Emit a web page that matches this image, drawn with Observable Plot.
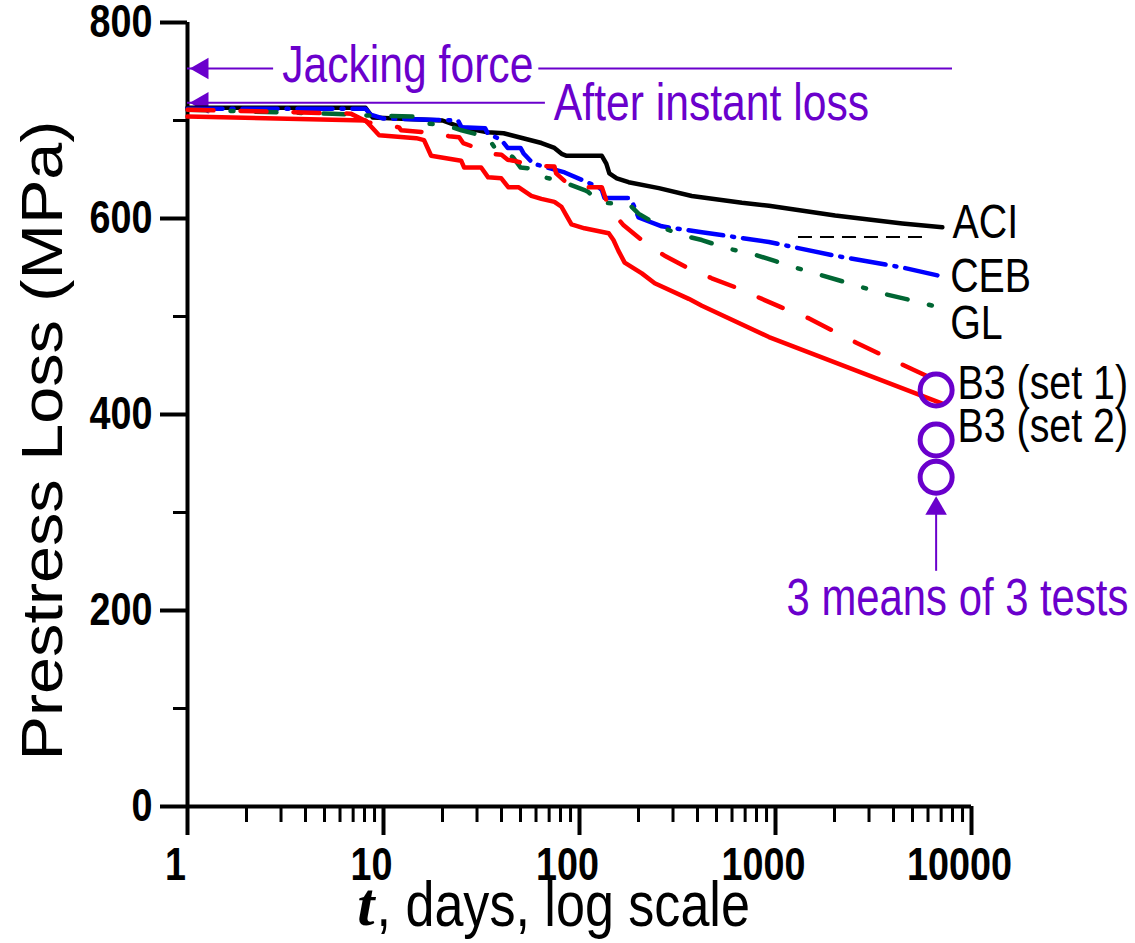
<!DOCTYPE html>
<html>
<head>
<meta charset="utf-8">
<script src="https://cdn.jsdelivr.net/npm/d3@7"></script>
<script src="https://cdn.jsdelivr.net/npm/@observablehq/plot@0.6"></script>
<style>
  body { margin: 0; background: #fff; }
  #chart svg { display: block; }
</style>
</head>
<body>
<div id="chart"></div>
<script>
// Prestress loss predictions vs. time (log scale), with measured means.
// Each series: [t (days), prestress loss (MPa)]
const aci = [[1,713],[8.1,713],[8.8,703],[20,700],[25,693],[34,688],[41,687],[64,677],[74.5,672],[81,666],[86,664],[130,664],[137,656],[142,646],[155,641],[178,637],[254,631],[374,623],[674,616],[926,613],[2015,603],[4436,595],[7100,591]];
const ceb = [[1,712],[8.1,712],[8.6,706],[10,702],[24,700],[25,693],[33,692],[34,687],[40,680],[43,672],[50,672],[52,666],[58,656],[84,647],[125,632],[130,629],[134,621],[178,621],[185,618],[200,601],[263,592],[421,586],[926,576],[2015,562],[4436,550],[6700,542]];
const gl = [[1,711],[3.3,708],[5.5,707],[8.5,705],[16,704],[16.5,697],[21,695],[25,690],[34,683],[37,672],[40,672],[46,662],[50,652],[57,651],[66,642],[78,639],[106,629],[111,627],[127,616],[178,615],[200,605],[263,591],[332,583],[421,578],[578,569],[732,565],[982,557],[1258,550],[2100,537],[3600,523],[4600,518],[7300,508]];
const b3set1 = [[1,711],[6.8,707],[8.4,698],[12,693],[12.3,690],[16.5,688],[21.6,684],[24.3,683],[25.5,677],[28,674],[34.6,666],[40,665],[43,660],[46,659],[58,654],[74.5,653],[76,646],[91,632],[130,632],[141,611],[168,593],[208,578],[272,562],[353,550],[473,539],[621,530],[1080,509],[1484,498],[2600,473],[4540,450],[7100,432]];
const b3set2 = [[1,704],[8.1,700],[9.5,685],[14.7,682],[16.1,680],[17.5,664],[24.9,659],[25.8,652],[31.5,652],[34.2,642],[39.9,641],[43.3,632],[48.8,632],[56.8,623],[63.9,620],[74.5,617],[80.9,612],[85.8,603],[91,594],[106,590],[141,585],[149,578],[158,567],[170,555],[208,544],[242,534],[361,518],[421,511],[926,479],[7100,411]];

// Measured: 3 means of 3 tests
const testAge = 6600;
const testMeans = [425, 374, 336];

// Reference levels
const jackingForce = 753;
const afterInstantLoss = 718;

// Curve end labels
const labelNames = ["ACI", "CEB", "GL", "B3 (set 1)", "B3 (set 2)"];
const labelT = [8000, 7780, 7780, 8480, 8480];
const labelLoss = [596, 541, 493, 431, 388];

// Axis ticks
const xMajor = [1, 10, 100, 1000, 10000];
const xMinor = [2,3,4,5,6,7,8,9].flatMap(k => [k, k*10, k*100, k*1000]);
const yMajor = [0, 200, 400, 600, 800];
const yMinor = [100, 300, 500, 700];

const yTitle = "Prestress Loss (MPa)";
const xTitleVar = "t";
const xTitleRest = ", days, log scale";

const purple = "#6a00cc";
const font = '"Liberation Sans", Arial, sans-serif';
const narrow = 0.82; // horizontal condensing of the sans text

const toRows = pts => pts.map(([t, loss]) => ({t, loss}));
const lineStyle = {x: "t", y: "loss", strokeWidth: 4.5, strokeLinecap: "round", strokeLinejoin: "round"};

const labels = labelNames.map((name, i) => ({name, t: labelT[i], loss: labelLoss[i]}));
const tests = testMeans.map(loss => ({t: testAge, loss}));

const chart = Plot.plot({
  width: 1135,
  height: 943,
  marginLeft: 187,
  marginRight: 164,
  marginTop: 22,
  marginBottom: 137,
  style: {fontFamily: font, background: "white", color: "black", overflow: "visible"},
  x: {type: "log", domain: [1, 10000]},
  y: {domain: [0, 800]},
  marks: [
    // axes: tick lines
    Plot.axisY({ticks: yMinor, tickSize: 14, strokeWidth: 3, tickFormat: () => "", label: null}),
    Plot.axisY({ticks: yMajor, tickSize: 27, tickPadding: 8, strokeWidth: 4, fontSize: 46, fontWeight: "bold", tickFormat: d => String(d), label: null}),
    Plot.axisX({ticks: xMinor, tickSize: 16, strokeWidth: 3, tickFormat: () => "", label: null}),
    Plot.axisX({ticks: xMajor, tickSize: 29, strokeWidth: 4, tickFormat: () => "", label: null}),
    // x tick labels, nudged left of their ticks
    Plot.axisX({ticks: xMajor, tickSize: 0, tickPadding: 41, fontSize: 46, fontWeight: "bold", dx: -12, tickFormat: d => String(d), label: null}),
    Plot.ruleX([1], {y1: 0, y2: 800, strokeWidth: 4}),
    Plot.ruleY([0], {x1: 1, x2: 10000, strokeWidth: 4}),

    // reference levels with arrows
    Plot.ruleY([jackingForce], {x1: 1, x2: 2.75, stroke: purple, strokeWidth: 2}),
    Plot.ruleY([jackingForce], {x1: 62, x2: 8000, stroke: purple, strokeWidth: 2}),
    Plot.ruleY([afterInstantLoss], {x1: 1, x2: 67, stroke: purple, strokeWidth: 2}),
    Plot.dot([jackingForce, afterInstantLoss], {x: () => 1.19, y: d => d, symbol: "triangle", r: 8, rotate: -90, fill: purple, stroke: null}),
    Plot.text(["Jacking force"], {x: () => 13.3, y: () => jackingForce, dy: -3, fontSize: 52, fill: purple, lineAnchor: "middle", textAnchor: "middle"}),
    Plot.text(["After instant loss"], {x: () => 74, y: () => afterInstantLoss, fontSize: 52, fill: purple, lineAnchor: "middle", textAnchor: "start"}),

    // short dashed level next to ACI
    Plot.ruleY([581], {x1: 1310, x2: 5820, strokeWidth: 2, strokeDasharray: "14,8"}),

    // prediction curves
    Plot.line(toRows(aci), {...lineStyle, stroke: "black"}),
    Plot.line(toRows(ceb), {...lineStyle, stroke: "#0000ff", strokeDasharray: "35,9,2,9"}),
    Plot.line(toRows(gl), {...lineStyle, stroke: "#006633", strokeDasharray: "21,22,3,22"}),
    Plot.line(toRows(b3set1), {...lineStyle, stroke: "#ff0000", strokeDasharray: "26,27"}),
    Plot.line(toRows(b3set2), {...lineStyle, stroke: "#ff0000"}),

    // curve labels
    Plot.text(labels, {x: "t", y: "loss", text: "name", textAnchor: "start", lineAnchor: "middle", fontSize: 48, fill: "black"}),

    // measured means
    Plot.dot(tests, {x: "t", y: "loss", r: 16, stroke: purple, strokeWidth: 5, fill: "none"}),
    Plot.ruleX([testAge], {y1: 240, y2: 300, stroke: purple, strokeWidth: 2}),
    Plot.dot([testAge], {x: d => d, y: () => 304, symbol: "triangle", r: 8, fill: purple, stroke: null}),
    Plot.text(["3 means of 3 tests"], {x: () => 8480, y: () => 212, fontSize: 51, fill: purple, lineAnchor: "middle", textAnchor: "middle"}),

    // axis titles
    Plot.text([yTitle], {frameAnchor: "left", rotate: -90, dx: -144, dy: 26, fontSize: 57, lineAnchor: "middle", textAnchor: "middle", fill: "black"}),
    Plot.text([xTitleVar], {frameAnchor: "bottom", dx: -205, dy: 99, fontSize: 62, fontFamily: '"Liberation Serif", "DejaVu Serif", serif', fontWeight: "bold", fontStyle: "italic", textAnchor: "end", lineAnchor: "middle", fill: "black"}),
    Plot.text([xTitleRest], {frameAnchor: "bottom", dx: -203, dy: 99, fontSize: 63.5, textAnchor: "start", lineAnchor: "middle", fill: "black"})
  ]
});

document.getElementById("chart").appendChild(chart);

// condense the sans-serif text; stretch the vertical title along its length
d3.select(chart).selectAll("text").each(function() {
  const content = this.textContent;
  if (content === yTitle) {
    this.setAttribute("textLength", 640);
    this.setAttribute("lengthAdjust", "spacingAndGlyphs");
    return;
  }
  if (content === xTitleVar || content === "") return;
  const w = this.getComputedTextLength();
  if (w > 0) {
    this.setAttribute("textLength", (w * narrow).toFixed(1));
    this.setAttribute("lengthAdjust", "spacingAndGlyphs");
  }
});
</script>
</body>
</html>
